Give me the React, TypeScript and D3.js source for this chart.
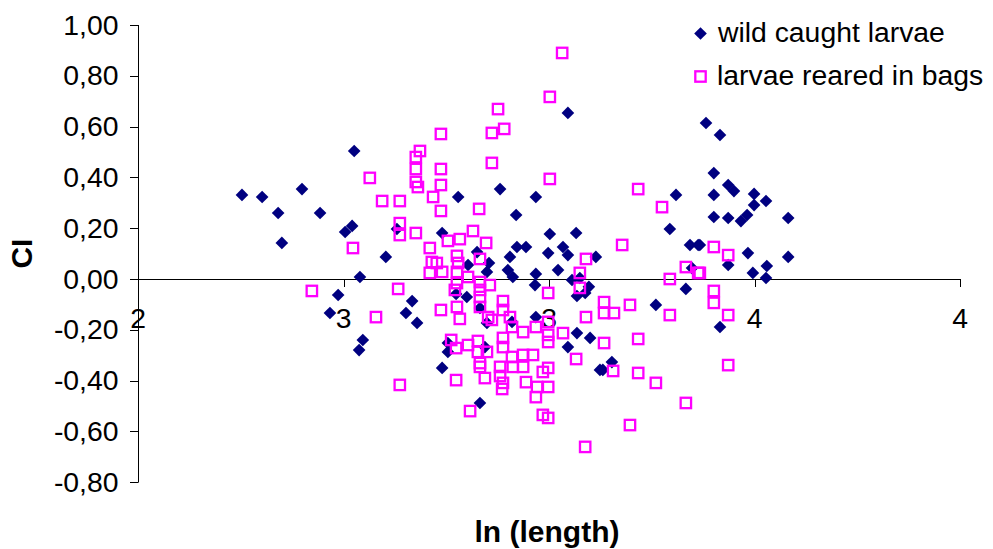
import React from "react";
import * as d3 from "d3";

const wildX = [2.253,2.302,2.341,2.350,2.399,2.443,2.487,2.467,2.504,2.521,2.526,2.540,2.603,2.630,2.667,2.652,2.679,2.547,2.538,2.740,2.779,2.881,2.920,2.968,3.046,2.825,2.854,2.849,2.905,2.900,2.912,2.803,2.774,2.800,2.832,2.849,2.910,2.754,2.754,2.844,2.740,2.832,3.002,3.066,2.922,2.944,2.998,3.034,3.046,3.114,3.022,2.968,2.966,3.056,3.097,3.068,3.088,2.968,3.068,3.100,3.046,3.124,3.309,3.294,3.343,3.363,3.348,3.333,3.260,3.153,3.131,3.382,3.416,3.401,3.436,3.450,3.401,3.499,3.499,3.528,3.401,3.436,3.467,3.482,3.582,3.367,3.436,3.484,3.582,3.496,3.530,3.528,3.416,3.075];
const wildY = [0.331,0.323,0.260,0.142,0.354,0.260,-0.063,-0.134,0.185,0.209,0.504,0.008,0.087,0.197,-0.087,-0.134,-0.173,-0.240,-0.280,0.181,0.323,0.354,0.252,0.323,0.654,0.106,0.063,0.028,0.087,0.035,0.008,0.055,-0.059,-0.071,-0.114,-0.173,-0.169,-0.252,-0.287,-0.268,-0.350,-0.488,0.177,0.181,0.126,0.126,0.102,0.126,0.094,0.087,0.035,0.020,-0.024,-0.004,-0.031,-0.067,-0.055,-0.150,-0.213,-0.232,-0.268,-0.358,0.331,0.197,0.134,0.134,0.043,-0.039,-0.102,-0.327,-0.358,0.614,0.567,0.417,0.370,0.346,0.331,0.335,0.291,0.307,0.244,0.240,0.228,0.252,0.240,0.134,0.055,0.102,0.087,0.024,0.051,0.004,-0.189,0.004];

const bagsX = [2.423,2.564,2.594,2.637,2.637,2.637,2.676,2.523,2.633,2.579,2.637,2.686,2.676,2.676,2.676,2.681,2.718,2.737,2.737,2.737,2.737,2.710,2.715,2.710,2.727,2.737,2.876,2.861,2.891,2.861,2.830,2.815,2.754,2.783,2.847,2.832,2.776,2.779,2.776,2.740,2.803,2.776,2.771,2.832,2.832,2.856,2.832,2.832,2.852,2.861,2.776,2.783,2.888,2.888,2.905,2.910,2.762,2.774,2.803,2.827,2.827,2.849,2.888,2.888,2.832,2.832,2.881,2.881,2.910,2.774,2.844,2.888,2.886,2.808,3.032,3.002,3.002,3.090,3.075,3.075,2.998,2.937,2.968,2.998,3.034,2.998,2.998,3.090,3.066,2.937,2.961,2.912,2.937,2.985,2.998,2.944,2.971,2.998,2.968,2.985,2.998,3.088,3.217,3.275,3.178,3.333,3.363,3.294,3.134,3.134,3.158,3.197,3.294,3.134,3.217,3.156,3.217,3.260,3.333,3.197,3.401,3.436,3.367,3.401,3.401,3.436,3.436];
const bagsY = [-0.047,0.398,0.307,0.307,0.220,0.173,0.181,0.122,-0.039,-0.150,-0.417,0.504,0.480,0.433,0.382,0.362,0.323,0.571,0.433,0.370,0.268,0.122,0.067,0.024,0.063,-0.122,0.669,0.575,0.591,0.457,0.276,0.189,0.150,0.157,0.142,0.079,0.091,0.063,0.028,0.028,0.008,-0.016,-0.043,-0.012,-0.043,-0.024,-0.071,-0.110,-0.150,-0.161,-0.110,-0.157,-0.087,-0.122,-0.150,-0.189,-0.240,-0.272,-0.260,-0.244,-0.287,-0.287,-0.232,-0.268,-0.331,-0.346,-0.346,-0.382,-0.307,-0.398,-0.390,-0.409,-0.433,-0.520,0.890,0.717,0.394,0.079,0.024,-0.035,-0.055,-0.209,-0.189,-0.169,-0.213,-0.220,-0.248,-0.150,-0.315,-0.299,-0.299,-0.346,-0.346,-0.366,-0.350,-0.406,-0.425,-0.425,-0.465,-0.535,-0.547,-0.661,0.354,0.283,0.134,0.047,0.024,0.000,-0.091,-0.134,-0.134,-0.102,-0.142,-0.252,-0.236,-0.362,-0.370,-0.409,-0.488,-0.575,0.126,0.094,0.024,-0.047,-0.094,-0.142,-0.339];

const xTicks = [2, 2.5, 3, 3.5, 4];
const xTickLabels = ["2", "3", "3", "4", "4"];
const yTicks = [1.0, 0.8, 0.6, 0.4, 0.2, 0.0, -0.2, -0.4, -0.6, -0.8];
const yTickLabels = ["1,00", "0,80", "0,60", "0,40", "0,20", "0,00", "-0,20", "-0,40", "-0,60", "-0,80"];
const seriesNames = ["wild caught larvae", "larvae reared in bags"];
const xTitle = "ln (length)";
const yTitle = "CI";

const NAVY = "#000080";
const MAGENTA = "#FF00FF";
const FONT = "'Liberation Sans', Arial, sans-serif";

export default function App() {
  const x = d3.scaleLinear().domain([2, 4]).range([138, 960]);
  const y = d3.scaleLinear().domain([-0.8, 1.0]).range([482.2, 25]);
  const diamond = d3.symbol().type(d3.symbolSquare).size(80)()!;
  const sq = 10.4;
  const x0 = x(2);
  const y0 = y(0);
  const sx = 1.05;

  return (
    <svg width={993} height={549} style={{ position: "absolute", left: 0, top: 0, background: "#fff" }}>
      <rect x={0} y={0} width={993} height={549} fill="#fff" />
      {/* y axis */}
      <line x1={x0 + 0.5} x2={x0 + 0.5} y1={y(1)} y2={y(-0.8)} stroke="#000" strokeWidth={1} />
      {yTicks.map((t, i) => (
        <g key={"yt" + i}>
          <line x1={x0 - 8} x2={x0 + 0.5} y1={Math.round(y(t)) + 0.5} y2={Math.round(y(t)) + 0.5} stroke="#000" strokeWidth={1} />
          <text
            transform={`translate(${x0 - 19.5},${y(t) + 9.5}) scale(${sx},1)`}
            textAnchor="end"
            fontFamily={FONT}
            fontSize={27}
            fill="#000"
          >
            {yTickLabels[i]}
          </text>
        </g>
      ))}
      {/* x axis */}
      <line x1={x0} x2={x(4)} y1={Math.round(y0) + 0.5} y2={Math.round(y0) + 0.5} stroke="#000" strokeWidth={1} />
      {xTicks.map((t, i) => (
        <g key={"xt" + i}>
          <line x1={Math.round(x(t)) + 0.5} x2={Math.round(x(t)) + 0.5} y1={y0} y2={y0 + 8} stroke="#000" strokeWidth={1} />
          <text
            transform={`translate(${x(t)},${y0 + 49}) scale(${sx},1)`}
            textAnchor="middle"
            fontFamily={FONT}
            fontSize={27}
            fill="#000"
          >
            {xTickLabels[i]}
          </text>
        </g>
      ))}
      {/* wild caught larvae */}
      {wildX.map((v, i) => (
        <path key={"w" + i} d={diamond} transform={`translate(${x(v)},${y(wildY[i])}) rotate(45)`} fill={NAVY} />
      ))}
      {/* larvae reared in bags */}
      {bagsX.map((v, i) => (
        <rect
          key={"b" + i}
          x={x(v) - sq / 2}
          y={y(bagsY[i]) - sq / 2}
          width={sq}
          height={sq}
          fill="none"
          stroke={MAGENTA}
          strokeWidth={2.3}
        />
      ))}
      {/* titles */}
      <text x={547} y={542} textAnchor="middle" fontFamily={FONT} fontSize={30} fontWeight="bold" fill="#000">
        {xTitle}
      </text>
      <text transform={`translate(32,${(y(1) + y(-0.8)) / 2}) rotate(-90)`} textAnchor="middle" fontFamily={FONT} fontSize={30} fontWeight="bold" fill="#000">
        {yTitle}
      </text>
      {/* legend */}
      <path d={diamond} transform="translate(700.5,33.5) rotate(45)" fill={NAVY} />
      <text transform={`translate(718,42) scale(${sx},1)`} fontFamily={FONT} fontSize={27} fill="#000">
        {seriesNames[0]}
      </text>
      <rect x={700.5 - sq / 2} y={76.5 - sq / 2} width={sq} height={sq} fill="none" stroke={MAGENTA} strokeWidth={2.3} />
      <text transform={`translate(717,85) scale(${sx},1)`} fontFamily={FONT} fontSize={27} fill="#000">
        {seriesNames[1]}
      </text>
    </svg>
  );
}
